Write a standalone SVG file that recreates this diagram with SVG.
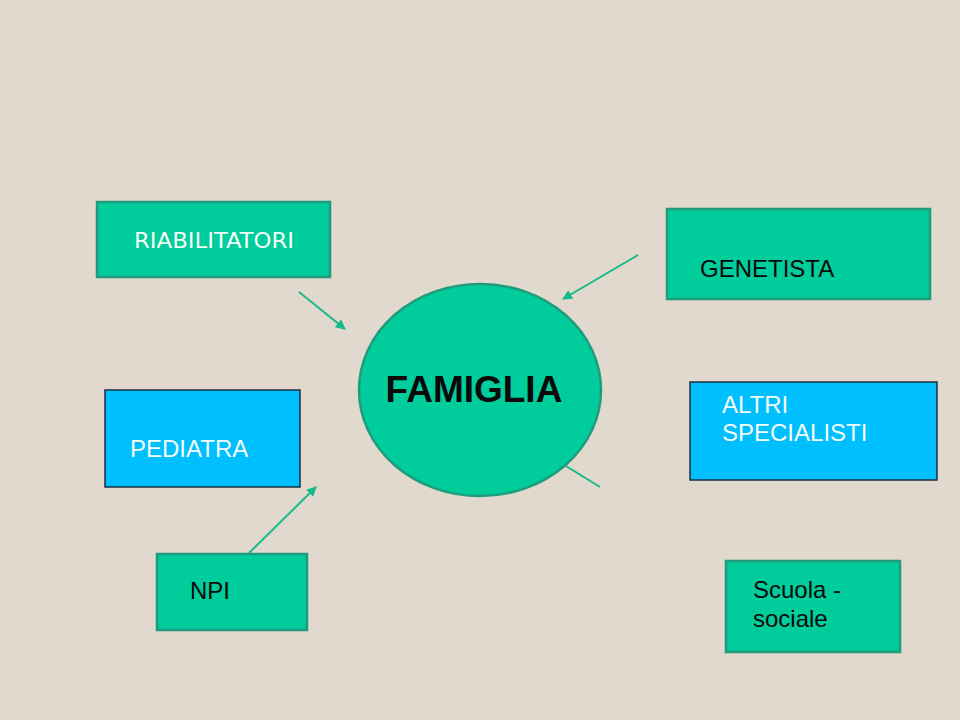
<svg xmlns="http://www.w3.org/2000/svg" width="960" height="720" viewBox="0 0 960 720">
<defs>
<style>
.teal{fill:#00cc9c;stroke:#1e9c7c;stroke-width:2.5}
.blue{fill:#00bfff;stroke:#1c2e3c;stroke-width:1.5}
.t{font-family:"Liberation Sans",Arial,sans-serif;font-size:24px}
.w{fill:#f4fbf8}
.k{fill:#0a0a0a}
.conn{stroke:#16b88c;stroke-width:2;fill:none}
</style>
<marker id="ah" viewBox="0 0 10 10" refX="9" refY="5" markerWidth="5" markerHeight="5" orient="auto" markerUnits="strokeWidth">
<path d="M0,0 L10,5 L0,10 z" fill="#16b88c"/>
</marker>
</defs>
<rect width="960" height="720" fill="#e1d9cd"/>
<g id="connectors">
<line class="conn" x1="299" y1="292" x2="345" y2="329" marker-end="url(#ah)"/>
<line class="conn" x1="638" y1="255" x2="563" y2="299" marker-end="url(#ah)"/>
<line class="conn" x1="566" y1="466" x2="600" y2="487"/>
<line class="conn" x1="249" y1="553" x2="316" y2="487" marker-end="url(#ah)"/>
</g>
<g id="riabilitatori">
<rect class="teal" x="97" y="202" width="233" height="75"/>
<text class="w" x="134" y="248" style="font-family:'DejaVu Sans Condensed','DejaVu Sans',sans-serif;font-size:21px" textLength="160" lengthAdjust="spacingAndGlyphs">RIABILITATORI</text>
</g>
<g id="genetista">
<rect class="teal" x="667" y="209" width="263" height="90"/>
<text class="t k" x="700" y="277">GENETISTA</text>
</g>
<g id="famiglia">
<ellipse cx="480" cy="390" rx="121" ry="106" fill="#00cc9c" stroke="#1e9c7c" stroke-width="2.5"/>
<text class="k" x="474" y="402" text-anchor="middle" style="font-family:'Liberation Sans',Arial,sans-serif;font-size:37px;font-weight:bold">FAMIGLIA</text>
</g>
<g id="pediatra">
<rect class="blue" x="105" y="390" width="195" height="97"/>
<text class="t w" x="130" y="457">PEDIATRA</text>
</g>
<g id="altri">
<rect class="blue" x="690" y="382" width="247" height="98"/>
<text class="t w" x="722" y="413">ALTRI</text>
<text class="t w" x="722" y="441">SPECIALISTI</text>
</g>
<g id="npi">
<rect class="teal" x="157" y="554" width="150" height="76"/>
<text class="t k" x="190" y="599">NPI</text>
</g>
<g id="scuola">
<rect class="teal" x="726" y="561" width="174" height="91"/>
<text class="t k" x="753" y="598">Scuola -</text>
<text class="t k" x="753" y="627">sociale</text>
</g>
</svg>
